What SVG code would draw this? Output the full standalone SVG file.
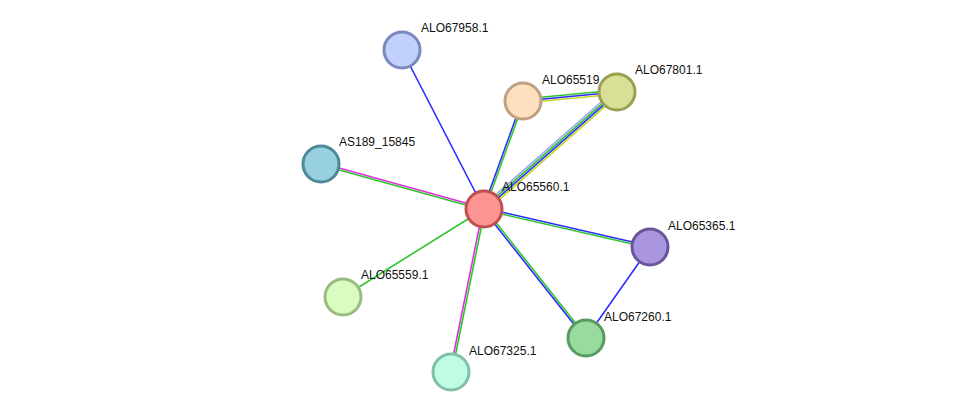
<svg xmlns="http://www.w3.org/2000/svg" width="975" height="418" viewBox="0 0 975 418">
<style>
line{stroke-width:1.6}
.b{stroke:#2a2aff}.g{stroke:#2ec52e}.m{stroke:#e030e0}.y{stroke:#c4d42a}.lb{stroke:#a0a8f0}
circle{stroke-width:3}
text{font-family:"Liberation Sans",Arial,sans-serif;font-size:12px;fill:#111}
</style>
<rect width="975" height="418" fill="#fff"/>
<g id="edges">
<line class="b" x1="484" y1="209" x2="402" y2="50"/>
<line class="b" x1="483" y1="209" x2="522" y2="101"/>
<line class="g" x1="485" y1="209" x2="524" y2="101"/>
<line class="lb" x1="482" y1="206.8" x2="615" y2="89.8"/>
<line class="g" x1="483.3" y1="208.3" x2="616.3" y2="91.3"/>
<line class="b" x1="484.7" y1="209.7" x2="617.7" y2="92.7"/>
<line class="y" x1="486" y1="211.2" x2="619" y2="94.2"/>
<line class="g" x1="523" y1="99" x2="617" y2="90"/>
<line class="b" x1="523" y1="101" x2="617" y2="92"/>
<line class="y" x1="523" y1="103" x2="617" y2="94"/>
<line class="m" x1="321" y1="163" x2="484" y2="208"/>
<line class="g" x1="321" y1="165" x2="484" y2="210"/>
<line class="b" x1="484" y1="208" x2="650" y2="246"/>
<line class="g" x1="484" y1="210" x2="650" y2="248"/>
<line class="g" x1="484" y1="209" x2="343" y2="297"/>
<line class="b" x1="483.2" y1="209.6" x2="585.2" y2="338.6"/>
<line class="g" x1="484.8" y1="208.4" x2="586.8" y2="337.4"/>
<line class="m" x1="483" y1="209" x2="450" y2="372"/>
<line class="g" x1="485" y1="209" x2="452" y2="372"/>
<line class="b" x1="650" y1="247" x2="586" y2="338"/>
</g>
<g id="n-ALO67958.1"><circle cx="402" cy="50" r="18" fill="#c2d0fc" stroke="#7a88c0"/><text x="421" y="32">ALO67958.1</text></g>
<g id="n-ALO65519"><circle cx="523" cy="101" r="18" fill="#fde0c0" stroke="#c0a080"/><text x="542" y="84">ALO65519</text></g>
<g id="n-ALO67801.1"><circle cx="617" cy="92" r="18" fill="#d9df95" stroke="#9aa050"/><text x="635" y="74">ALO67801.1</text></g>
<g id="n-AS189_15845"><circle cx="321" cy="164" r="18" fill="#97d1dd" stroke="#4f8898"/><text x="339" y="146">AS189_15845</text></g>
<g id="n-ALO65560.1"><circle cx="484" cy="209" r="18" fill="#fc9494" stroke="#c05050"/><text x="502" y="191">ALO65560.1</text></g>
<g id="n-ALO65365.1"><circle cx="650" cy="247" r="18" fill="#a995e0" stroke="#6a559a"/><text x="668" y="230">ALO65365.1</text></g>
<g id="n-ALO65559.1"><circle cx="343" cy="297" r="18" fill="#d9fcc0" stroke="#98bb80"/><text x="361" y="279">ALO65559.1</text></g>
<g id="n-ALO67260.1"><circle cx="586" cy="338" r="18" fill="#97dc9c" stroke="#5a9a60"/><text x="604" y="321">ALO67260.1</text></g>
<g id="n-ALO67325.1"><circle cx="451" cy="372" r="18" fill="#c0fce4" stroke="#80c0a8"/><text x="469" y="355">ALO67325.1</text></g>
</svg>
